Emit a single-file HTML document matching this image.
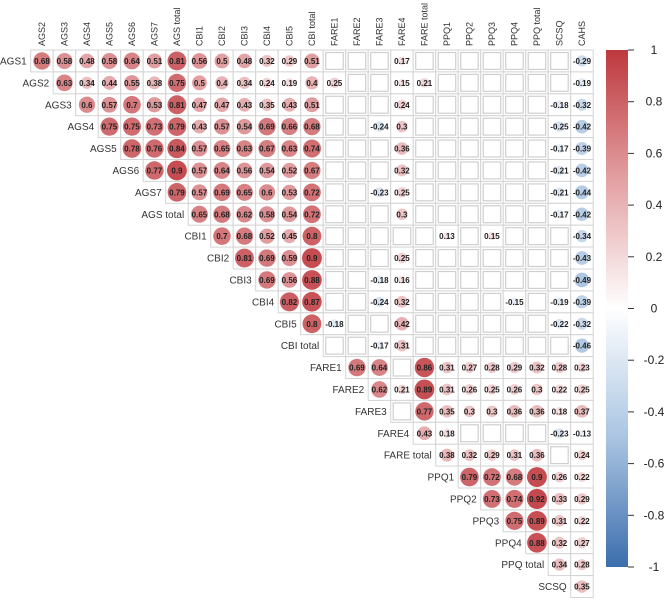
<!DOCTYPE html>
<html><head><meta charset="utf-8"><style>
body{margin:0;background:#fff;}
svg{display:block;font-family:"Liberation Sans",sans-serif;}
</style></head><body>
<svg id="chart" width="669" height="600"></svg>
<script>
const vars = ["AGS1","AGS2","AGS3","AGS4","AGS5","AGS6","AGS7","AGS total","CBI1","CBI2","CBI3","CBI4","CBI5","CBI total","FARE1","FARE2","FARE3","FARE4","FARE total","PPQ1","PPQ2","PPQ3","PPQ4","PPQ total","SCSQ","CAHS"];
const rowLabels = vars.slice(0,25);
const colLabels = vars.slice(1);
const N = null;
const r0 = [0.68,0.58,0.48,0.58,0.64,0.51,0.81,0.56,0.5,0.48,0.32,0.29,0.51,N,N,N,0.17,N,N,N,N,N,N,N,-0.29];
const r1 = [0.63,0.34,0.44,0.55,0.38,0.75,0.5,0.4,0.34,0.24,0.19,0.4,0.25,N,N,0.15,0.21,N,N,N,N,N,N,-0.19];
const r2 = [0.6,0.57,0.7,0.53,0.81,0.47,0.47,0.43,0.35,0.43,0.51,N,N,N,0.24,N,N,N,N,N,N,-0.18,-0.32];
const r3 = [0.75,0.75,0.73,0.79,0.43,0.57,0.54,0.69,0.66,0.68,N,N,-0.24,0.3,N,N,N,N,N,N,-0.25,-0.42];
const r4 = [0.78,0.76,0.84,0.57,0.65,0.63,0.67,0.63,0.74,N,N,N,0.36,N,N,N,N,N,N,-0.17,-0.39];
const r5 = [0.77,0.9,0.57,0.64,0.56,0.54,0.52,0.67,N,N,N,0.32,N,N,N,N,N,N,-0.21,-0.42];
const r6 = [0.79,0.57,0.69,0.65,0.6,0.53,0.72,N,N,-0.23,0.25,N,N,N,N,N,N,-0.21,-0.44];
const r7 = [0.65,0.68,0.62,0.58,0.54,0.72,N,N,N,0.3,N,N,N,N,N,N,-0.17,-0.42];
const r8 = [0.7,0.68,0.52,0.45,0.8,N,N,N,N,N,0.13,N,0.15,N,N,N,-0.34];
const r9 = [0.81,0.69,0.59,0.9,N,N,N,0.25,N,N,N,N,N,N,N,-0.43];
const r10 = [0.69,0.56,0.88,N,N,-0.18,0.16,N,N,N,N,N,N,N,-0.49];
const r11 = [0.82,0.87,N,N,-0.24,0.32,N,N,N,N,-0.15,N,-0.19,-0.39];
const r12 = [0.8,-0.18,N,N,0.42,N,N,N,N,N,N,-0.22,-0.32];
const r13 = [N,N,-0.17,0.31,N,N,N,N,N,N,N,-0.46];
const r14 = [0.69,0.64,N,0.86,0.31,0.27,0.28,0.29,0.32,0.28,0.23];
const r15 = [0.62,0.21,0.89,0.31,0.26,0.25,0.26,0.3,0.22,0.25];
const r16 = [N,0.77,0.35,0.3,0.3,0.36,0.36,0.18,0.37];
const r17 = [0.43,0.18,N,N,N,N,-0.23,-0.13];
const r18 = [0.38,0.32,0.29,0.31,0.36,N,0.24];
const r19 = [0.79,0.72,0.68,0.9,0.26,0.22];
const r20 = [0.73,0.74,0.92,0.33,0.29];
const r21 = [0.75,0.89,0.31,0.22];
const r22 = [0.88,0.32,0.27];
const r23 = [0.34,0.28];
const r24 = [0.35];
const rows = [r0,r1,r2,r3,r4,r5,r6,r7,r8,r9,r10,r11,r12,r13,r14,r15,r16,r17,r18,r19,r20,r21,r22,r23,r24];
const ticks = [1,0.8,0.6,0.4,0.2,0,-0.2,-0.4,-0.6,-0.8,-1];

const X0=30.7, Y0=50, CW=22.5, CH=21.9;
const svg=document.getElementById('chart');
const NS='http://www.w3.org/2000/svg';
function mk(t,a){const e=document.createElementNS(NS,t);for(const k in a)e.setAttribute(k,a[k]);return e;}
function xCol(c){return X0+c*CW;}
function yRow(r){return Y0+r*CH;}
function lerp(a,b,t){return a.map((v,i)=>Math.round(v+(b[i]-v)*t));}
function color(v){
  const stops=[[-1,[60,110,172]],[-0.5,[170,196,226]],[0,[255,255,255]],[0.5,[226,160,162]],[1,[190,56,62]]];
  for(let i=0;i<stops.length-1;i++){const [a,ca]=stops[i],[b,cb]=stops[i+1];
    if(v>=a&&v<=b){const c=lerp(ca,cb,(v-a)/(b-a));return `rgb(${c[0]},${c[1]},${c[2]})`;}}
  return '#fff';
}
colLabels.forEach((l,c)=>{
  const cx=xCol(c)+CW/2+3;
  const t=mk('text',{x:0,y:0,transform:`translate(${cx},46) rotate(-90)`,'font-size':9,fill:'#333'});
  t.textContent=l;
  
  
  svg.appendChild(t);
});
rows.forEach((vals,r)=>{
  const lab=mk('text',{x:xCol(r)-4,y:yRow(r)+CH/2+3.5,'text-anchor':'end','font-size':10,fill:'#333'});
  lab.textContent=rowLabels[r];
  
  
  svg.appendChild(lab);
  vals.forEach((v,i)=>{
    const c=r+i, x=xCol(c), y=yRow(r);
    const cell=mk('rect',{x:x,y:y,width:CW,height:CH,fill:'#fff',stroke:'#d4d4d4','stroke-width':1});
    
    
    svg.appendChild(cell);
    if(v===null){
      const sq=mk('rect',{x:x+2.5,y:y+2.5,width:CW-5,height:CH-5,fill:'#fff',stroke:'#cfcfcf','stroke-width':1.2});
      
      
      svg.appendChild(sq);
    } else {
      const rad=10.5*Math.sqrt(Math.abs(v));
      const circ=mk('circle',{cx:x+CW/2,cy:y+CH/2,r:rad,fill:color(v)});
      
      
      svg.appendChild(circ);
      const t=mk('text',{x:x+CW/2,y:y+CH/2+3,'text-anchor':'middle','font-size':8,'font-weight':'bold',fill:'#222'});
      t.textContent=String(v);
      
      
      svg.appendChild(t);
    }
  });
});
const defs=mk('defs',{});
const grad=mk('linearGradient',{id:'cb',x1:0,y1:0,x2:0,y2:1});
for(let k=0;k<=20;k++){const v=1-k/10;grad.appendChild(mk('stop',{offset:(k/20),'stop-color':color(v)}));}
defs.appendChild(grad);svg.appendChild(defs);
const CB_T=50, CB_B=567;
const bar=mk('rect',{x:606,y:CB_T,width:22,height:CB_B-CB_T,fill:'url(#cb)'});


svg.appendChild(bar);
ticks.forEach(v=>{
  const y=CB_T+(1-v)/2*(CB_B-CB_T);
  const tk=mk('line',{x1:628,x2:634,y1:y,y2:y,stroke:'#333','stroke-width':1});
  
  
  svg.appendChild(tk);
  const t=mk('text',{x:654,y:y+4,'text-anchor':'middle','font-size':12,fill:'#222'});
  t.textContent=String(v);
  
  
  svg.appendChild(t);
});
</script>
</body></html>
